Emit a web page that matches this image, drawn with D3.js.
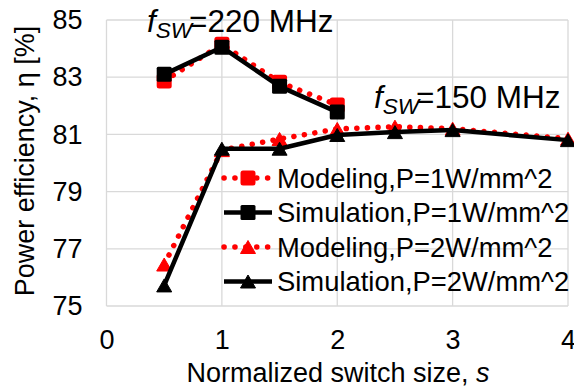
<!DOCTYPE html>
<html>
<head>
<meta charset="utf-8">
<script src="https://cdn.jsdelivr.net/npm/d3@7"></script>
<style>
  html, body { margin: 0; padding: 0; background: #fff; }
  svg { display: block; }
  text { font-family: "Liberation Sans", Arial, sans-serif; fill: #000; }
</style>
</head>
<body>
<svg id="chart" width="574" height="388"></svg>
<script>
// ---- data ----
const xP1 = [0.5, 1, 1.5, 2];
const modelP1 = [82.87, 84.15, 82.82, 82.03];
const simP1 = [83.1, 84.05, 82.68, 81.78];
const xP2 = [0.5, 1, 1.5, 2, 2.5, 3, 4];
const modelP2 = [76.45, 80.45, 80.84, 81.19, 81.27, 81.2, 80.85];
const simP2 = [75.72, 80.5, 80.5, 80.98, 81.08, 81.15, 80.8];
const xTicks = [0, 1, 2, 3, 4];
const yTicks = [75, 77, 79, 81, 83, 85];
const seriesNames = ["Modeling,P=1W/mm^2", "Simulation,P=1W/mm^2", "Modeling,P=2W/mm^2", "Simulation,P=2W/mm^2"];

const svg = d3.select("#chart");
const L = 106.5, R = 568, T = 20, B = 306;
const x = d3.scaleLinear().domain([0, 4]).range([L, R]);
const y = d3.scaleLinear().domain([75, 85]).range([B, T]);

// grid
const grid = svg.append("g").attr("stroke", "#d9d9d9").attr("stroke-width", 1.3);
yTicks.forEach(t => grid.append("line").attr("x1", L).attr("x2", R).attr("y1", y(t)).attr("y2", y(t)));
xTicks.forEach(t => grid.append("line").attr("x1", x(t)).attr("x2", x(t)).attr("y1", T).attr("y2", B));

// axes labels via d3 axes (no domain/ticks lines)
const yAxis = svg.append("g").attr("transform", `translate(${L},0)`)
  .call(d3.axisLeft(y).tickValues(yTicks).tickSize(0).tickPadding(24).tickFormat(d3.format("d")));
const xAxis = svg.append("g").attr("transform", `translate(0,${B})`)
  .call(d3.axisBottom(x).tickValues(xTicks).tickSize(0).tickPadding(24).tickFormat(d3.format("d")));
[yAxis, xAxis].forEach(a => {
  a.select(".domain").remove();
  a.selectAll("text").attr("font-size", 27).attr("font-family", "Liberation Sans, Arial, sans-serif").attr("fill", "#000");
});
xAxis.selectAll("text").attr("dy", "0.72em").attr("y", 24);

// axis titles
svg.append("text").attr("x", 338).attr("y", 382).attr("text-anchor", "middle").attr("font-size", 27)
  .text("Normalized switch size, ").append("tspan").attr("font-style", "italic").text("s");
svg.append("text").attr("transform", "translate(34,161) rotate(-90)").attr("text-anchor", "middle").attr("font-size", 27)
  .text("Power efficiency, η [%]");

// styles
const redCol = "#ff0000";
const line = d3.line();

function drawSeries(xs, ys, style) {
  const pts = xs.map((d, i) => [x(d), y(ys[i])]);
  const p = svg.append("path").attr("d", line(pts)).attr("fill", "none");
  if (style.dotted) {
    p.attr("stroke", redCol).attr("stroke-width", 5.5).attr("stroke-linecap", "round").attr("stroke-dasharray", "0.1 10.5");
  } else {
    p.attr("stroke", "#000").attr("stroke-width", 4.5).attr("stroke-linejoin", "round");
  }
  pts.forEach(pt => drawMarker(pt[0], pt[1], style));
}

function drawMarker(cx, cy, style) {
  const col = style.dotted ? redCol : "#000";
  if (style.marker === "square") {
    const s = 15;
    svg.append("rect").attr("x", cx - s / 2).attr("y", cy - s / 2).attr("width", s).attr("height", s)
      .attr("rx", style.dotted ? 2.5 : 1.5).attr("fill", col);
  } else {
    const w = 15, h = 13;
    svg.append("path").attr("d", `M${cx},${cy - h / 2}L${cx + w / 2},${cy + h / 2}L${cx - w / 2},${cy + h / 2}Z`)
      .attr("fill", col).attr("stroke", col).attr("stroke-width", 1).attr("stroke-linejoin", "round");
  }
}

const styles = [
  { dotted: true, marker: "square" },
  { dotted: false, marker: "square" },
  { dotted: true, marker: "triangle" },
  { dotted: false, marker: "triangle" }
];

drawSeries(xP1, modelP1, styles[0]);
drawSeries(xP1, simP1, styles[1]);
drawSeries(xP2, modelP2, styles[2]);
drawSeries(xP2, simP2, styles[3]);

// legend
const legY0 = 178, legStep = 34.5;
seriesNames.forEach((name, i) => {
  const ly = legY0 + i * legStep;
  const st = styles[i];
  const p = svg.append("path").attr("d", line([[224, ly], [272, ly]])).attr("fill", "none");
  if (st.dotted) {
    p.attr("stroke", redCol).attr("stroke-width", 5.5).attr("stroke-linecap", "round").attr("stroke-dasharray", "0.1 10.8");
  } else {
    p.attr("stroke", "#000").attr("stroke-width", 4.5);
  }
  drawMarker(248, ly, st);
  svg.append("text").attr("x", 277).attr("y", ly + 9.7).attr("font-size", 27.4).text(name);
});

// annotations
function annot(xp, yp, val) {
  const t = svg.append("text").attr("x", xp).attr("y", yp).attr("font-size", 31.5);
  t.append("tspan").attr("font-style", "italic").text("f");
  t.append("tspan").attr("font-style", "italic").attr("font-size", 22.5).attr("dy", 6).text("SW");
  t.append("tspan").attr("dy", -6).attr("dx", -3).text("=" + val + " MHz");
}
annot(147, 32, "220");
annot(374, 108, "150");
</script>
</body>
</html>
